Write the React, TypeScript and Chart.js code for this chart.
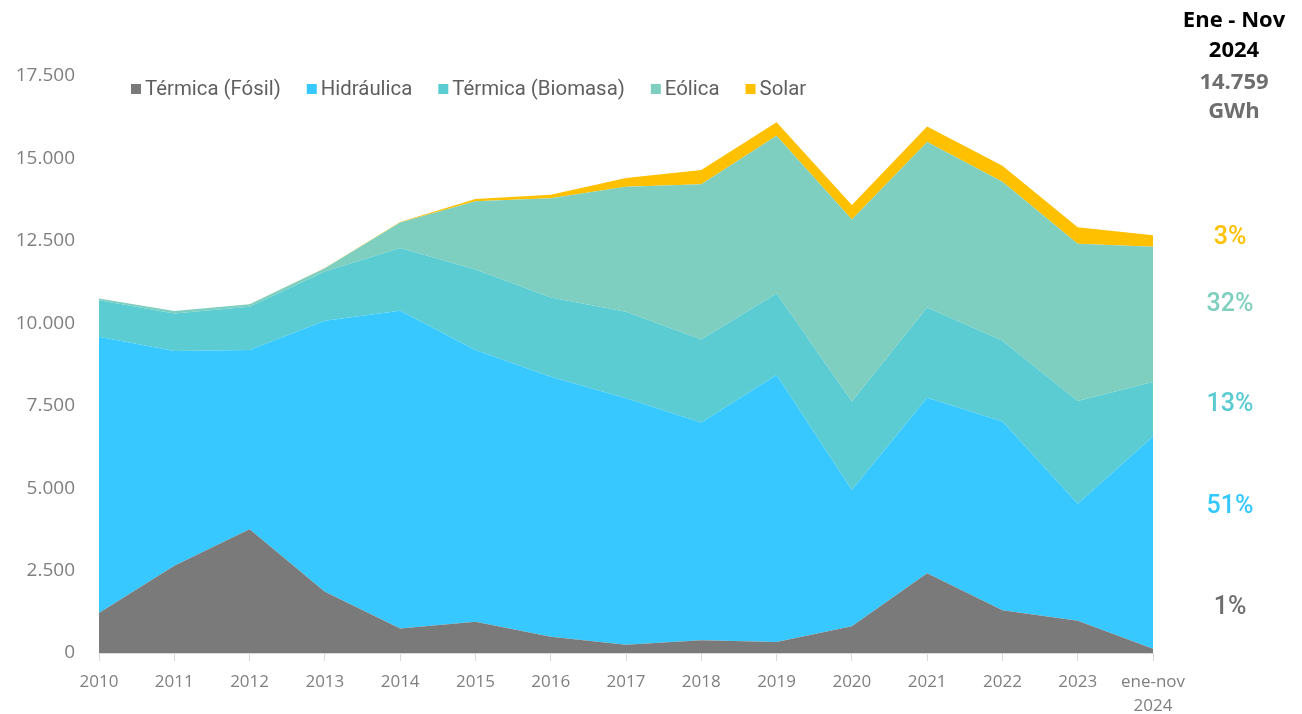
import React, { useEffect, useRef } from "react";
import { Chart, registerables } from "chart.js";

Chart.register(...registerables);

const categories: (string | string[])[] = [
  "2010", "2011", "2012", "2013", "2014", "2015", "2016", "2017",
  "2018", "2019", "2020", "2021", "2022", "2023", ["ene-nov", "2024"],
];

const seriesNames = ["Térmica (Fósil)", "Hidráulica", "Térmica (Biomasa)", "Eólica", "Solar"];
const seriesColors = ["#7A7A7A", "#36C8FF", "#5BCCD2", "#7ECFBF", "#FFC000"];

const termicaFosil = [1210, 2650, 3750, 1860, 740, 950, 490, 250, 390, 330, 810, 2420, 1300, 980, 130];
const hidraulica = [8380, 6510, 5440, 8220, 9640, 8240, 7890, 7480, 6600, 8100, 4130, 5320, 5720, 3550, 6440];
const termicaBiomasa = [1110, 1140, 1310, 1490, 1900, 2440, 2400, 2620, 2520, 2470, 2690, 2740, 2450, 3110, 1650];
const eolica = [50, 70, 80, 100, 780, 2070, 3010, 3790, 4710, 4790, 5520, 5020, 4820, 4770, 4100];
const solar = [0, 0, 0, 10, 10, 70, 110, 270, 430, 410, 440, 470, 490, 500, 350];

const yTicks = [0, 2500, 5000, 7500, 10000, 12500, 15000, 17500];

const headerLines = ["Ene - Nov", "2024", "14.759", "GWh"];
const shareLabels = ["3%", "32%", "13%", "51%", "1%"];
const shareColors = ["#FFC000", "#7FCFBF", "#5BCBD2", "#33C8FF", "#6E6E6E"];

const fmt = (v: number) => {
  const s = Math.round(v).toString();
  return s.replace(/\B(?=(\d{3})+(?!\d))/g, ".");
};

const overlayPlugin = {
  id: "overlay",
  afterDraw(chart: any) {
    const ctx = chart.ctx as CanvasRenderingContext2D;
    ctx.save();
    // legend
    ctx.font = '20.4px Roboto';
    ctx.textBaseline = "middle";
    ctx.textAlign = "left";
    let x = 131;
    const y = 89;
    seriesNames.forEach((name, i) => {
      ctx.fillStyle = seriesColors[i];
      ctx.fillRect(x, y - 5, 10, 10);
      x += 14;
      ctx.fillStyle = "#5F5F5F";
      ctx.fillText(name, x, y + 1);
      x += ctx.measureText(name).width + 26;
    });
    // header
    ctx.textAlign = "center";
    ctx.font = 'bold 22px "Open Sans"';
    const hx = 1234;
    const hy = [21, 51, 83, 112];
    headerLines.forEach((t, i) => {
      ctx.fillStyle = i < 2 ? "#000000" : "#6E6E6E";
      ctx.fillText(t, hx, hy[i]);
    });
    // shares
    ctx.font = '500 25px Roboto';
    const sy = [238, 305, 405, 507, 608];
    shareLabels.forEach((t, i) => {
      ctx.fillStyle = shareColors[i];
      ctx.fillText(t, 1230, sy[i]);
    });
    ctx.restore();
  },
};

export default function App() {
  const ref = useRef<HTMLCanvasElement | null>(null);
  useEffect(() => {
    if (!ref.current) return;
    const data = [termicaFosil, hidraulica, termicaBiomasa, eolica, solar];
    const chart = new Chart(ref.current, {
      type: "line",
      data: {
        labels: categories,
        datasets: data.map((d, i) => ({
          label: seriesNames[i],
          data: d,
          backgroundColor: seriesColors[i],
          borderColor: seriesColors[i],
          borderWidth: 0,
          pointRadius: 0,
          tension: 0,
          fill: i === 0 ? "origin" : "-1",
        })),
      },
      options: {
        responsive: false,
        animation: false,
        layout: { padding: { top: 76, right: 149, bottom: 0, left: 0 } },
        plugins: { legend: { display: false }, tooltip: { enabled: false } },
        scales: {
          x: {
            offset: false,
            grid: { display: true, drawOnChartArea: false, drawTicks: true, tickLength: 8, color: "#D9D9D9" },
            border: { display: true, color: "#D9D9D9", width: 1 },
            ticks: {
              color: "#7F7F7F",
              font: { family: "Open Sans", size: 17, lineHeight: 1.4 },
              padding: 9,
              maxRotation: 0,
              autoSkip: false,
            },
            afterFit: (s: any) => { s.height = 61; },
          },
          y: {
            stacked: true,
            min: 0,
            max: 17500,
            afterBuildTicks: (s: any) => { s.ticks = yTicks.map((v) => ({ value: v })); },
            grid: { display: false, drawTicks: false },
            border: { display: false },
            ticks: {
              color: "#7F7F7F",
              font: { family: "Open Sans", size: 19 },
              padding: 24,
              callback: (v: any) => fmt(Number(v)),
            },
            afterFit: (s: any) => { s.width = 99; },
          },
        },
      },
      plugins: [overlayPlugin],
    });
    return () => chart.destroy();
  }, []);
  return (
    <div style={{ position: "absolute", left: 0, top: 0, width: 1302, height: 714, background: "#fff" }}>
      <canvas ref={ref} width={1302} height={714} style={{ display: "block", width: 1302, height: 714 }} />
    </div>
  );
}
